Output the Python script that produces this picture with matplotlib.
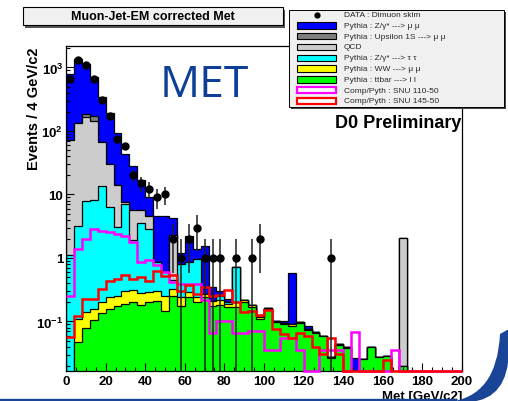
import numpy as np
import matplotlib.pyplot as plt
from matplotlib.patches import Rectangle, PathPatch
from matplotlib.path import Path
from matplotlib.lines import Line2D
from matplotlib.ticker import (MultipleLocator, LogLocator, FixedLocator,
                               FixedFormatter, NullFormatter)

plt.rcParams['font.family'] = ['Liberation Sans', 'DejaVu Sans']
plt.rcParams['font.weight'] = 'bold'
plt.rcParams['mathtext.fontset'] = 'custom'
for k in ('rm', 'it', 'bf'):
    plt.rcParams['mathtext.' + k] = 'Liberation Sans:bold'

# Met binning: 4 GeV/c2 per bin, 0..200
met_edges = np.arange(0, 201, 4)
met_centers = met_edges[:-1] + 2

# THStack levels (cumulative height of each layer), bottom layer first
stack_ttbar = [0, 0.047, 0.08, 0.105, 0.135, 0.157, 0.177, 0.19, 0.2, 0.18,
               0.2, 0.21, 0.145, 0.25, 0.177, 0.24, 0.2, 0.24, 0.177, 0.18,
               0.17, 0.17, 0.2, 0.17, 0.11, 0.155, 0.097, 0.09, 0.086, 0.093,
               0.074, 0.066, 0.059, 0.027, 0.043, 0.038, 0, 0.026, 0.04, 0.028,
               0.029, 0, 0.02, 0, 0, 0, 0, 0, 0, 0]
stack_ww = [0, 0.11, 0.14, 0.16, 0.2, 0.24, 0.255, 0.3, 0.31, 0.28,
            0.29, 0.3, 0.25, 0.32, 0.24, 0.29, 0.24, 0.27, 0.21, 0.22,
            0.19, 0.2, 0.22, 0.18, 0.116, 0.163, 0.1, 0.095, 0.09, 0.097,
            0.076, 0.068, 0.06, 0.028, 0.044, 0.039, 0, 0.026, 0.04, 0.028,
            0.029, 0, 0.02, 0, 0, 0, 0, 0, 0, 0]
stack_ztautau = [1.1, 3.2, 8.0, 8.2, 13.8, 6.3, 3.1, 7.0, 1.9, 3.5,
                 2.9, 0.85, 0.6, 0.45, 0.8, 0.86, 0.96, 0.27, 0.21, 0.25,
                 0.2, 0.72, 0.22, 0.18, 0.116, 0.163, 0.1, 0.095, 0.09, 0.097,
                 0.076, 0.068, 0.06, 0.028, 0.044, 0.039, 0, 0.026, 0.04, 0.028,
                 0.029, 0, 0.02, 0, 0, 0, 0, 0, 0, 0]
stack_qcd = [72, 135, 167, 145, 66, 30, 14, 7.5, 5.8, 5.6,
             4.6, 0.85, 0.6, 2.3, 0.8, 0.86, 0.96, 0.27, 0.21, 0.25,
             0.2, 0.72, 0.22, 0.18, 0.116, 0.163, 0.1, 0.095, 0.09, 0.097,
             0.076, 0.068, 0.06, 0.028, 0.044, 0.039, 0, 0.026, 0.04, 0.028,
             0.029, 0, 2.04, 0, 0, 0, 0, 0, 0, 0]
stack_upsilon = [72, 135, 185, 175, 66, 30, 14, 7.5, 5.8, 5.6,
                 4.6, 0.85, 0.6, 2.3, 0.8, 0.86, 0.96, 0.27, 0.21, 0.25,
                 0.2, 0.72, 0.22, 0.18, 0.116, 0.163, 0.1, 0.095, 0.09, 0.097,
                 0.076, 0.068, 0.06, 0.028, 0.044, 0.039, 0, 0.026, 0.04, 0.028,
                 0.029, 0, 2.04, 0, 0, 0, 0, 0, 0, 0]
stack_zmumu = [800, 1350, 1150, 720, 340, 190, 92, 44, 28.5, 17,
               9.0, 4.6, 4.6, 4.2, 1.2, 2.25, 1.4, 1.56, 0.345, 0.3,
               0.23, 0.72, 0.22, 0.18, 0.116, 0.163, 0.1, 0.1, 0.58, 0.097,
               0.086, 0.068, 0.06, 0.028, 0.044, 0.039, 0.027, 0.026, 0.04, 0.028,
               0.029, 0, 2.04, 0, 0, 0, 0, 0, 0, 0]

# signal samples (drawn as open histograms)
snu_110_50 = [0.25, 1.39, 2.0, 2.86, 2.7, 2.6, 2.4, 2.25, 1.77, 0.88,
              0.92, 0.78, 0.6, 0.42, 0.39, 0.39, 0.39, 0.22, 0.065, 0.1,
              0.1, 0.066, 0.066, 0.072, 0.072, 0.035, 0.035, 0.055, 0.055, 0.035,
              0, 0, 0.035, 0.035, 0.035, 0, 0.068, 0, 0, 0,
              0, 0.035, 0, 0, 0, 0, 0, 0, 0, 0]
snu_145_50 = [0.056, 0.123, 0.23, 0.226, 0.325, 0.44, 0.47, 0.54, 0.47, 0.51,
              0.44, 0.62, 0.52, 0.54, 0.3, 0.37, 0.27, 0.345, 0.255, 0.26,
              0.31, 0.2, 0.14, 0.148, 0.125, 0.154, 0.076, 0.064, 0.055, 0.067,
              0.06, 0.039, 0.031, 0.055, 0.031, 0, 0, 0, 0, 0,
              0.025, 0, 0, 0, 0, 0, 0, 0, 0, 0]

# dimuon skim data
data_counts = [670, 1300, 1080, 660, 310, 172, 74, 57, 20, 15,
               12, 9, 10, 2, 1, 2, 3, 1, 1, 1,
               0, 1, 0, 1, 2, 0, 0, 0, 0, 0,
               0, 0, 0, 1, 0, 0, 0, 0, 0, 0,
               0, 0, 0, 0, 0, 0, 0, 0, 0, 0]

y_tick_values = [0.1, 1, 10, 100, 1000]
y_tick_labels = ['10$^{-1}$', '1', '10', '10$^{2}$', '10$^{3}$']
x_tick_values = list(range(0, 201, 20))

legend_labels = ['DATA : Dimuon skim',
                 'Pythia : Z/\u03b3* ---> \u03bc \u03bc',
                 'Pythia : Upsilon 1S ---> \u03bc \u03bc',
                 'QCD',
                 'Pythia : Z/\u03b3* ---> \u03c4 \u03c4',
                 'Pythia : WW ---> \u03bc \u03bc',
                 'Pythia : ttbar ---> l l',
                 'Comp/Pyth : SNU 110-50',
                 'Comp/Pyth : SNU 145-50']

c_zmumu, c_ups, c_qcd = '#0000ff', '#7f7f7f', '#cccccc'
c_ztt, c_ww, c_tt = '#00ffff', '#ffff00', '#00ff00'
c_snu1, c_snu2 = '#ff00ff', '#ff0000'

W, H = 508, 402
fig = plt.figure(figsize=(W / 100, H / 100), dpi=100)
fig.patch.set_facecolor('white')


def fxy(x, y):
    # pixel position (from top-left) -> figure fraction
    return x / W, 1 - y / H


ax = fig.add_axes([66 / W, 1 - 372 / H, 396 / W, 325 / H])
ax.set_yscale('log', nonpositive='clip')
ylo, yhi = 0.0166, 2180
floor = 1e-4

# stack: draw the highest cumulative level first, like THStack
layers = [(stack_zmumu, c_zmumu), (stack_upsilon, c_ups), (stack_qcd, c_qcd),
          (stack_ztautau, c_ztt), (stack_ww, c_ww), (stack_ttbar, c_tt)]
for lev, col in layers:
    ax.stairs(np.maximum(lev, floor), met_edges, baseline=floor, fill=True,
              facecolor=col, edgecolor='black', linewidth=0.9, zorder=1)

ax.stairs(np.maximum(snu_110_50, ylo), met_edges, baseline=None,
          color=c_snu1, linewidth=1.8, zorder=2.6, clip_on=False)
ax.stairs(np.maximum(snu_145_50, ylo), met_edges, baseline=None,
          color=c_snu2, linewidth=1.8, zorder=2.7, clip_on=False)

counts = np.array(data_counts, dtype=float)
sel = counts > 0
ax.errorbar(met_centers[sel], counts[sel], yerr=np.sqrt(counts[sel]),
            fmt='o', ms=5, color='black', ecolor='#202020', elinewidth=1.1,
            capsize=0, zorder=4)

ax.set_xlim(0, 200)
ax.set_ylim(ylo, yhi)
ax.xaxis.set_major_locator(FixedLocator(x_tick_values))
ax.xaxis.set_minor_locator(MultipleLocator(5))
ax.yaxis.set_major_locator(FixedLocator(y_tick_values))
ax.yaxis.set_major_formatter(FixedFormatter(y_tick_labels))
ax.yaxis.set_minor_locator(LogLocator(base=10, subs=np.arange(2, 10), numticks=20))
ax.yaxis.set_minor_formatter(NullFormatter())
ax.tick_params(which='both', direction='in', top=False, right=False,
               width=0.8, labelsize=9.5)
ax.tick_params(which='major', length=6)
ax.tick_params(which='minor', length=3)
ax.tick_params(axis='x', pad=3)
ax.tick_params(axis='y', pad=2)
for sp in ax.spines.values():
    sp.set_linewidth(0.9)

ax.set_ylabel('Events / 4 GeV/c2', fontsize=10.5, fontweight='bold', loc='top')
ax.yaxis.set_label_coords(-0.062, 1.0)
ax.set_xlabel('Met [GeV/c2]', fontsize=9.5, fontweight='bold', loc='right')
ax.xaxis.set_label_coords(1.0, -0.058)

# title box with shadow
tx, ty = fxy(22.5, 26)
tw, th = 260 / W, 18 / H
fig.add_artist(Rectangle((tx + 2.5 / W, ty - 2.5 / H), tw, th,
                         transform=fig.transFigure, facecolor='#555555',
                         edgecolor='none', zorder=5))
fig.add_artist(Rectangle((tx, ty), tw, th, transform=fig.transFigure,
                         facecolor='#f0f0f0', edgecolor='black', lw=0.8, zorder=6))
fig.text(*fxy(153, 17.5), 'Muon-Jet-EM corrected Met', fontsize=9,
         ha='center', va='center', zorder=7)

# legend box with shadow
lx, ly = fxy(289, 108)
lw_, lh_ = 215 / W, 97 / H
fig.add_artist(Rectangle((lx + 2 / W, ly - 2 / H), lw_, lh_,
                         transform=fig.transFigure, facecolor='#444444',
                         edgecolor='none', zorder=5))
fig.add_artist(Rectangle((lx, ly), lw_, lh_, transform=fig.transFigure,
                         facecolor='#f0f0f0', edgecolor='black', lw=0.7, zorder=6))
swatch_styles = [None,
                 (c_zmumu, 'black', 0.8), (c_ups, 'black', 0.8),
                 (c_qcd, 'black', 0.8), (c_ztt, 'black', 0.8),
                 (c_ww, 'black', 0.8), (c_tt, 'black', 0.8),
                 ('white', c_snu1, 1.6), ('white', c_snu2, 1.6)]
for i, (label, style) in enumerate(zip(legend_labels, swatch_styles)):
    yc = 15.5 + 10.8 * i
    if style is None:
        fig.add_artist(Line2D([fxy(317, yc)[0]], [fxy(317, yc)[1]],
                              marker='o', ms=3.5, color='black',
                              transform=fig.transFigure, zorder=7))
    else:
        fc, ec, lwd = style
        sx, sy = fxy(297, yc + 3.2)
        fig.add_artist(Rectangle((sx, sy), 39 / W, 6.4 / H,
                                 transform=fig.transFigure, facecolor=fc,
                                 edgecolor=ec, lw=lwd, zorder=7))
    fig.text(*fxy(344, yc), label, fontsize=6, fontweight='normal',
             color='#2a2a2a', ha='left', va='center', zorder=7)

fig.text(*fxy(461, 123), 'D0 Preliminary', fontsize=13, ha='right',
         va='center', zorder=7)
fig.text(*fxy(204, 86), 'MET', fontsize=32, fontweight='normal',
         family=['Open Sans', 'Noto Sans', 'DejaVu Sans'], color='#0d3f96',
         ha='center', va='center', zorder=7)

# slide decoration: bottom rule and corner swoosh
fig.add_artist(Line2D([0, 455 / W], [1 - 400.5 / H] * 2, color='#1a4496',
                      lw=2.4, transform=fig.transFigure, zorder=8))
pts = [fxy(448, 403), fxy(497, 398), fxy(500, 335),
       fxy(509, 330), fxy(509, 403), fxy(448, 403)]
codes = [Path.MOVETO, Path.CURVE3, Path.CURVE3,
         Path.LINETO, Path.LINETO, Path.CLOSEPOLY]
fig.add_artist(PathPatch(Path(pts, codes), transform=fig.transFigure,
                         facecolor='#1a4496', edgecolor='none', zorder=8))
pts2 = [fxy(470, 403), fxy(508, 400), fxy(509, 352),
        fxy(509, 403), fxy(470, 403)]
codes2 = [Path.MOVETO, Path.CURVE3, Path.CURVE3, Path.LINETO, Path.CLOSEPOLY]
fig.add_artist(PathPatch(Path(pts2, codes2), transform=fig.transFigure,
                         facecolor='white', edgecolor='none', zorder=9))

fig.savefig('out.png', dpi=100)
